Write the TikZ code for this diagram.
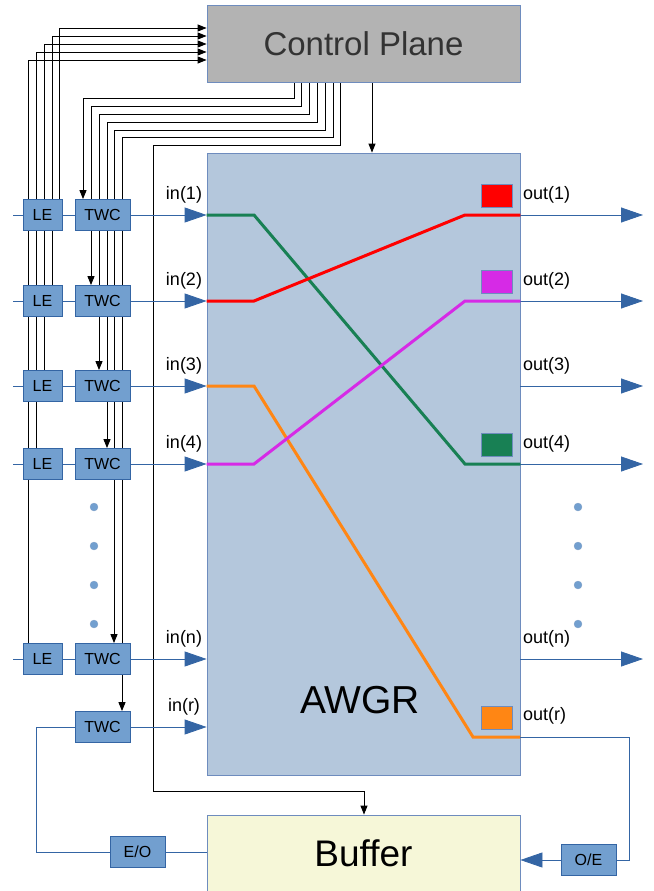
\documentclass[tikz,border=0pt]{standalone}
\usepackage{fontspec}
\setmainfont{Liberation Sans}
\usetikzlibrary{arrows.meta, positioning, backgrounds}
\definecolor{boxfill}{RGB}{114,159,207}
\definecolor{boxline}{RGB}{52,101,164}
\definecolor{awgrfill}{RGB}{180,199,220}
\definecolor{frameline}{RGB}{110,140,190}
\definecolor{cpfill}{RGB}{179,179,179}
\definecolor{buffill}{RGB}{246,247,216}
\definecolor{lamgreen}{RGB}{24,128,84}
\definecolor{lamred}{RGB}{255,0,0}
\definecolor{lammag}{RGB}{214,42,230}
\definecolor{lamorange}{RGB}{255,134,20}

\begin{document}
\begin{tikzpicture}[
    x=1pt, y=-1pt,
    unit/.style={rectangle, draw=boxline, fill=boxfill, line width=0.8pt, minimum width=#1, minimum height=31pt, inner sep=0pt, font=\fontsize{16}{18}\selectfont},
    block/.style={rectangle, draw=frameline, fill=#1, line width=0.8pt, minimum width=313pt, inner sep=0pt},
    fib/.style={draw=boxline, line width=0.8pt},
    fibin/.style={fib, -{Triangle[length=22pt, width=15pt]}},
    ctl/.style={black, line width=0.9pt},
    ctlin/.style={ctl, -{Triangle[length=9pt, width=7pt]}},
    lam/.style={line width=3pt, draw=#1},
    tag/.style={rectangle, draw=frameline, fill=#1, minimum width=31pt, minimum height=23pt, inner sep=0pt},
    lbl/.style={font=\fontsize{18}{20}\selectfont, inner sep=0pt},
    dotnode/.style={circle, fill=boxfill, draw=boxline!60, line width=0.3pt, minimum size=8pt, inner sep=0pt}
  ]
  \useasboundingbox (0,0) rectangle (653,891);

  % Main blocks
  \node[block=cpfill, minimum height=77pt, text=black!80, font=\fontsize{33}{38}\selectfont] (cp) at (363.5,43.5) {Control Plane};
  \node[block=awgrfill, minimum height=622pt] (awgr) at (363.5,464) {};
  \node[font=\fontsize{39}{44}\selectfont, inner sep=0pt] (awgrtxt) at (360,700) {AWGR};
  \node[block=buffill, minimum height=76pt, font=\fontsize{37}{42}\selectfont] (buf) at (363.5,853) {Buffer};

  % Input side
  \foreach \k/\y in {1/215, 2/301, 3/386, 4/464, n/659} {
    \node[unit=39pt] (le\k) at (42.5,\y) {LE};
    \node[unit=55pt] (twc\k) at (102.5,\y) {TWC};
    \coordinate (src\k) at (13,\y);
    \node[lbl] (in\k) at (184,\y-20) {in(\k)};
  }
  \node[unit=55pt] (twcr) at (102.5,727) {TWC};
  \node[lbl] (inr) at (184,707) {in(r)};
  \node[unit=55pt] (eo) at (137.5,852) {E/O};
  \node[unit=55pt] (oe) at (588.5,860) {O/E};

  \foreach \k in {1,2,3,4,n} {
    \draw[fib] (src\k) -- (le\k.west);
    \draw[fib] (le\k.east) -- (twc\k.west);
    \draw[fibin] (twc\k.east) -- (twc\k.east -| awgr.west);
  }
  \draw[fibin] (twcr.east) -- (twcr.east -| awgr.west);

  % Output side
  \foreach \k/\y in {1/215, 2/301, 3/386, 4/464, n/659} {
    \coordinate (dst\k) at (643,\y);
    \draw[fibin] (awgr.east |- dst\k) -- (dst\k);
    \node[lbl, anchor=west] (out\k) at (523,\y-20) {out(\k)};
  }
  \node[lbl, anchor=west] (outr) at (523,716) {out(r)};

  % Wavelength routes
  \draw[lam=lamgreen] (awgr.west |- src1) -- (254,215) -- (465,464) -- (awgr.east |- dst4);
  \draw[lam=lamred] (awgr.west |- src2) -- (254,301) -- (465,215) -- (awgr.east |- dst1);
  \draw[lam=lamorange] (awgr.west |- src3) -- (254,386) -- (473,737) -- (awgr.east |- 0,737);
  \draw[lam=lammag] (awgr.west |- src4) -- (254,464) -- (465,301) -- (awgr.east |- dst2);

  \node[tag=lamred] (tag1) at (496.5,195.5) {};
  \node[tag=lammag] (tag2) at (496.5,281.5) {};
  \node[tag=lamgreen] (tag4) at (496.5,445) {};
  \node[tag=lamorange] (tagr) at (496.5,717.5) {};

  \foreach \d [count=\i] in {507,546,585,624} {
    \node[dotnode] (ldot\i) at (94,\d) {};
    \node[dotnode] (rdot\i) at (578,\d) {};
  }

  % Recirculation loop
  \draw[fib] (awgr.east |- 0,737) -- ++(109,0) |- (oe.east);
  \draw[fibin] (oe.west) -- (oe.west -| buf.east);
  \draw[fib] (twcr.west) -- ++(-38,0) |- (eo.west);
  \draw[fib] (eo.east) -- (eo.east -| buf.west);

  % Control lines
  \begin{scope}[on background layer]
    \foreach \k/\lx/\ly in {1/59/28, 2/52/36, 3/44/44, 4/36/52, n/28/60}
      \draw[ctlin] (\lx,0 |- le\k.north) |- (cp.west |- 0,\ly);
    \foreach \k/\cx/\tx/\ty in {1/294/83/98, 2/301/91/106, 3/309/99/114, 4/317/107/122, n/325/114/130, r/333/122/137}
      \draw[ctlin] (\cx,0 |- cp.south) |- (\tx,\ty) -- (\tx,0 |- twc\k.north);
    \draw[ctlin] (340,0 |- cp.south) |- (153,145) |- (364,791) -- (364,0 |- buf.north);
    \draw[ctlin] (372,0 |- cp.south) -- (372,0 |- awgr.north);
  \end{scope}
\end{tikzpicture}
\end{document}
